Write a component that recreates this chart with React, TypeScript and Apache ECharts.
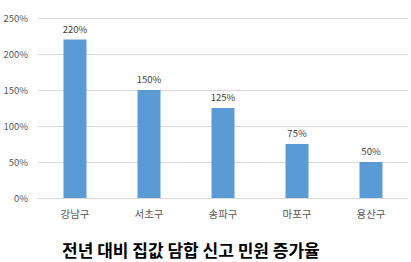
import React, { useEffect, useRef } from "react";
import * as echarts from "echarts";

const categories = ["강남구", "서초구", "송파구", "마포구", "용산구"];
const values = [220, 150, 125, 75, 50];
const yTicks = { min: 0, max: 250, interval: 50 };
const titleText = "전년 대비 집값 담합 신고 민원 증가율";

export default function App() {
  const ref = useRef<HTMLDivElement>(null);
  useEffect(() => {
    const chart = echarts.init(ref.current!, null, { renderer: "svg" });
    chart.setOption({
      animation: false,
      backgroundColor: "#ffffff",
      textStyle: { fontFamily: "'Noto Sans CJK KR', 'Noto Sans', sans-serif" },
      title: {
        text: titleText,
        left: 57,
        top: 236,
        textStyle: { fontSize: 17, fontWeight: "bold", color: "#000000", fontFamily: "'Noto Sans CJK KR', sans-serif" },
      },
      grid: { left: 38, right: 3, top: 18, bottom: 64, containLabel: false },
      xAxis: {
        type: "category",
        data: categories,
        axisLine: { lineStyle: { color: "#D9D9D9" } },
        axisTick: { show: false },
        axisLabel: { color: "#595959", fontSize: 10.5, margin: 10 },
      },
      yAxis: {
        type: "value",
        min: yTicks.min,
        max: yTicks.max,
        interval: yTicks.interval,
        axisLine: { show: false },
        axisTick: { show: false },
        splitLine: { lineStyle: { color: "#D9D9D9" } },
        axisLabel: { color: "#595959", fontSize: 9.5, margin: 10, formatter: "{value}%" },
      },
      series: [
        {
          type: "bar",
          data: values,
          barWidth: 23,
          itemStyle: { color: "#5B9BD5" },
          label: { show: true, position: "top", color: "#404040", fontSize: 9.5, formatter: "{c}%", distance: 6 },
        },
      ],
    });
    return () => chart.dispose();
  }, []);
  return (
    <div
      ref={ref}
      style={{ position: "fixed", left: 0, top: 0, width: 411, height: 262 }}
    />
  );
}
